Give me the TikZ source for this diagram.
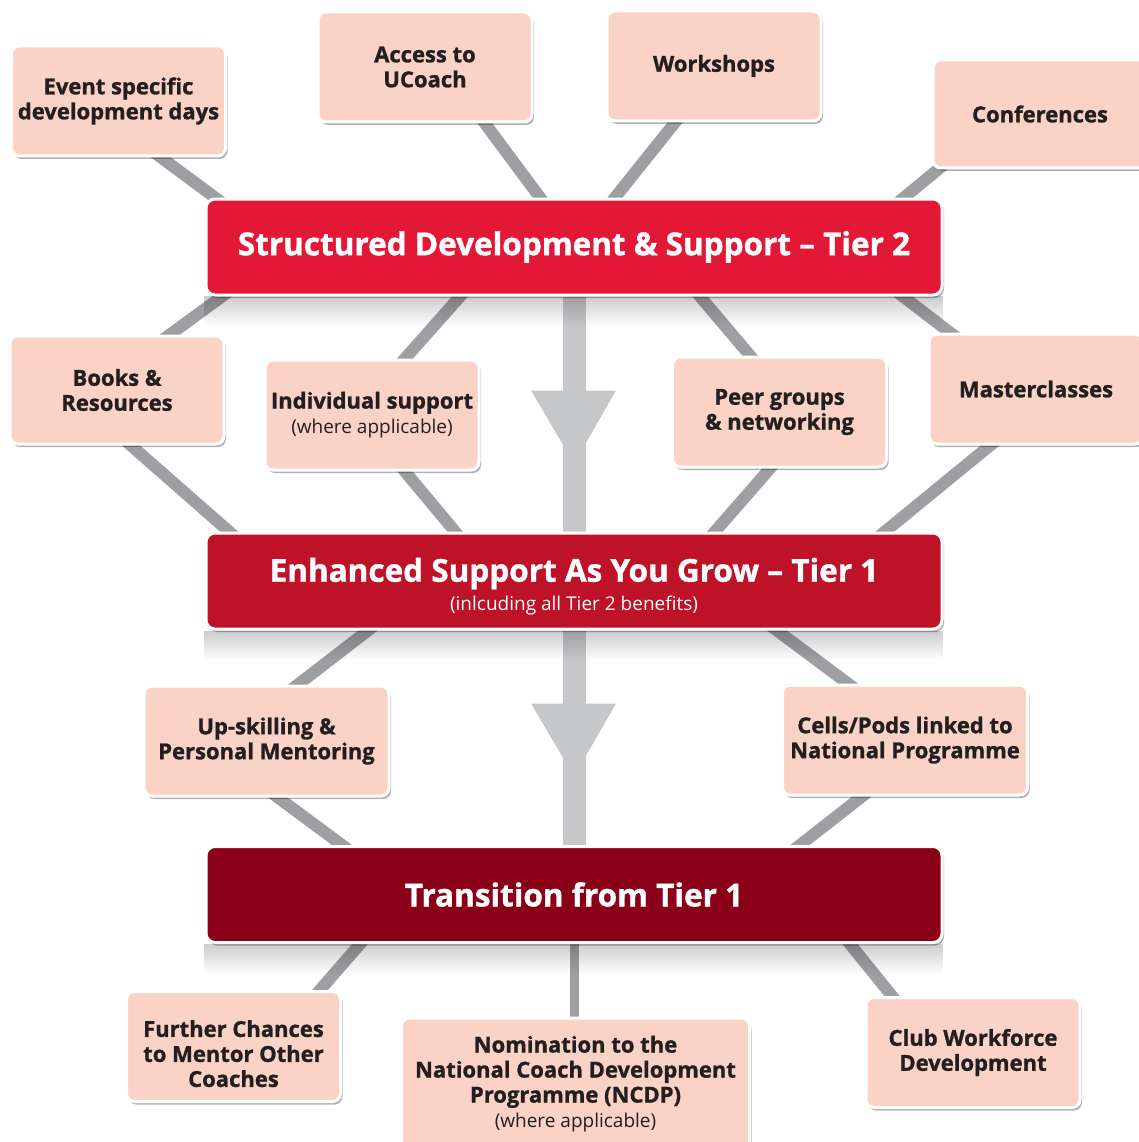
\documentclass[tikz,border=0pt]{standalone}
\usepackage{fontspec}
\setmainfont{Open Sans}[BoldFeatures={FakeBold=1.2}]
\usetikzlibrary{shadows,fadings,calc}
\definecolor{peach}{HTML}{FAD2C6}
\definecolor{tiertwo}{HTML}{E31837}
\definecolor{tierone}{HTML}{BE1229}
\definecolor{tierzero}{HTML}{8A0018}
\definecolor{linkgray}{HTML}{9D9FA2}
\definecolor{arrowgray}{HTML}{C6C7C9}
\definecolor{ink}{HTML}{231F20}
\pgfdeclarelayer{bg}
\pgfsetlayers{bg,main}
\begin{document}
\begin{tikzpicture}[x=1pt,y=-1pt,
  box/.style={draw=white, line width=3pt, fill=peach, rounded corners=8pt,
    minimum width=214pt, minimum height=110pt, align=center, text=ink,
    font=\bfseries\fontsize{22}{25}\selectfont,
    drop shadow={shadow xshift=2pt,shadow yshift=-3pt,opacity=0.3,fill=black}},
  bar/.style={draw=white, line width=3pt, rounded corners=9pt,
    minimum width=736pt, minimum height=96pt, align=center, text=white,
    font=\bfseries\fontsize{31.5}{34}\selectfont,
    drop shadow={shadow xshift=2pt,shadow yshift=-3pt,opacity=0.3,fill=black}},
  link/.style={draw=linkgray, line width=12pt, shorten <=-10pt, shorten >=-10pt},
  barshade/.style={fill=black, opacity=0.2, path fading=south}]
\useasboundingbox (0,0) rectangle (1139,1142);
\clip (0,0) rectangle (1139,1142);

\node[box] (ev) at (118.5,101) {Event specific\\development days};
\node[box] (uc) at (425,67) {Access to\\UCoach};
\node[box] (ws) at (714,66) {Workshops};
\node[box, minimum height=108pt] (cf) at (1040,114) {Conferences};
\node[bar, fill=tiertwo] (t2) at (574,247) {Structured Development \& Support – Tier 2};
\node[box, minimum height=108pt] (bk) at (117,390) {Books \&\\Resources};
\node[box] (ind) at (372,415) {Individual support\\{\mdseries\fontsize{19}{22}\selectfont (where applicable)}};
\node[box] (peer) at (779.5,412) {Peer groups\\\& networking};
\node[box] (mc) at (1036,389) {Masterclasses};
\node[bar, fill=tierone] (t1) at (574,581) {\rule{0pt}{35pt}Enhanced Support As You Grow – Tier 1\\[-5pt]{\mdseries\fontsize{19}{20}\selectfont (inlcuding all Tier 2 benefits)}};
\node[box, minimum width=245pt] (up) at (266.5,741) {Up-skilling \&\\Personal Mentoring};
\node[box, minimum width=245pt] (cells) at (905,740) {Cells/Pods linked to\\National Programme};
\node[bar, fill=tierzero] (t3) at (574,894.5) {Transition from Tier 1};
\node[box] (fc) at (233.5,1046.5) {\rule{0pt}{31pt}Further Chances\\to Mentor Other\\Coaches};
\node[box, minimum width=348pt, minimum height=132pt] (nom) at (575.5,1084) {Nomination to the\\National Coach Development\\Programme (NCDP)\\{\mdseries\fontsize{19}{22}\selectfont (where applicable)}};
\node[box] (club) at (973,1052.5) {Club Workforce\\Development};

\begin{pgfonlayer}{bg}
% connectors
\draw[link] ($(ev.south)+(42.5,0)$) -- ($(t2.north)+(-359,0)$);
\draw[link] ($(uc.south)+(60,0)$) -- ($(t2.north)+(-34,0)$);
\draw[link] ($(ws.south)+(-39,0)$) -- ($(t2.north)+(41,0)$);
\draw[link] ($(cf.south)+(-102,0)$) -- ($(t2.north)+(330,0)$);
\draw[link] ($(t2.south)+(-352,0)$) -- ($(bk.north)+(53,0)$);
\draw[link] ($(t2.south)+(-114,0)$) -- ($(ind.north)+(33,0)$);
\draw[link] ($(t2.south)+(126,0)$) -- ($(peer.north)+(-29.5,0)$);
\draw[link] ($(t2.south)+(329,0)$) -- ($(mc.north)+(-86,0)$);
\draw[link] ($(bk.south)+(14,0)$) -- ($(t1.north)+(-345,0)$);
\draw[link] ($(ind.south)+(33,0)$) -- ($(t1.north)+(-119,0)$);
\draw[link] ($(peer.south)+(-9.5,0)$) -- ($(t1.north)+(141,0)$);
\draw[link] ($(mc.south)+(-46,0)$) -- ($(t1.north)+(311,0)$);
\draw[link] ($(t1.south)+(-206,0)$) -- ($(up.north)+(31.5,0)$);
\draw[link] ($(t1.south)+(203,0)$) -- ($(cells.north)+(-57,0)$);
\draw[link] ($(up.south)+(11.5,0)$) -- ($(t3.north)+(-232,0)$);
\draw[link] ($(cells.south)+(-43,0)$) -- ($(t3.north)+(226,0)$);
\draw[link] ($(t3.south)+(-214,0)$) -- ($(fc.north)+(86.5,0)$);
\draw[link, line width=9pt] ($(t3.south)+(0,0)$) -- ($(nom.north)+(-1.5,0)$);
\draw[link] ($(t3.south)+(276,0)$) -- ($(club.north)+(-81,0)$);
% big arrows
\fill[arrowgray] ($(t2.south)+(-11.5,0)$) rectangle ($(t1.north)+(11.5,0)$);
\fill[arrowgray] ($(t2.south)+(-43,94)$) -- ($(t2.south)+(42,94)$) -- ($(t2.south)+(0,167)$) -- cycle;
\fill[arrowgray] ($(t1.south)+(-11.5,0)$) rectangle ($(t3.north)+(11.5,0)$);
\fill[arrowgray] ($(t1.south)+(-43,73)$) -- ($(t1.south)+(42,73)$) -- ($(t1.south)+(0,146)$) -- cycle;
% shading under bars
\fill[barshade] (t2.south west) rectangle ($(t2.south east)+(0,30)$);
\fill[barshade] (t1.south west) rectangle ($(t1.south east)+(0,30)$);
\fill[barshade] (t3.south west) rectangle ($(t3.south east)+(0,30)$);
\end{pgfonlayer}
\end{tikzpicture}
\end{document}
